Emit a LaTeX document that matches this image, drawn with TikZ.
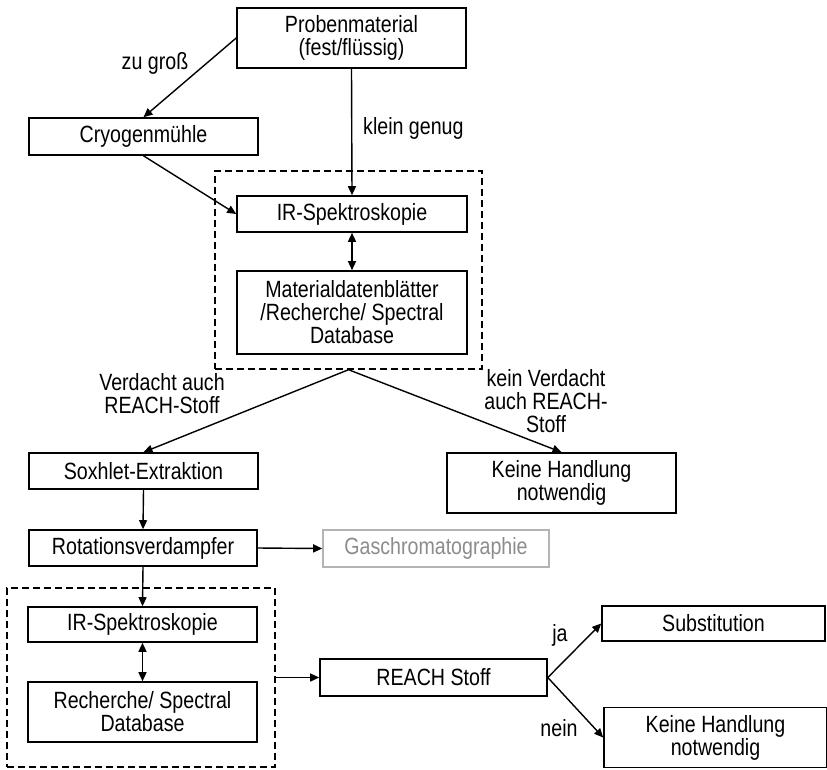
\documentclass[tikz,border=0pt]{standalone}
\usepackage{fontspec}
\setmainfont{Liberation Sans}[FakeStretch=0.835]
\usepackage{xcolor}
\usepackage{tikz}
\usetikzlibrary{arrows.meta}
\definecolor{gcborder}{HTML}{B4B4B4}
\definecolor{gctext}{HTML}{8C8C8C}

\begin{document}
\begin{tikzpicture}[x=1pt,y=-1pt,>={Stealth[length=9pt,width=8pt,inset=0pt]},
		font=\fontsize{23.5}{23}\selectfont,
		procbox/.style={draw,line width=1.6pt,inner sep=0pt,align=center,minimum width=229,minimum height=36},
		tallbox/.style={procbox,minimum height=60},
		groupbox/.style={draw,line width=1.4pt,dash pattern=on 7pt off 4pt,inner sep=0pt},
		lbl/.style={align=center,inner sep=0pt},
		flow/.style={->,line width=1.4pt}]
			\useasboundingbox (0,0) rectangle (827,769);

			% The dashed groups
			\node[groupbox,minimum width=267,minimum height=198] (grpa) at (348.5,270) {};
			\node[groupbox,minimum width=268,minimum height=179] (grpb) at (141,677.5) {};

			% The boxes
			\node[tallbox] (probe) at (351.5,38) {Probenmaterial\\(fest/flüssig)};
			\node[procbox,minimum height=37] (cryo) at (143.5,136.5) {Cryogenmühle};
			\node[procbox,minimum width=230] (irone) at (352,214) {IR-Spektroskopie};
			\node[procbox,minimum width=230,minimum height=83] (matdb) at (352,312.5) {Materialdatenblätter\\/Recherche/ Spectral\\Database};
			\node[procbox] (soxh) at (143.5,471) {Soxhlet-Extraktion};
			\node[tallbox] (nothing) at (561.5,483) {Keine Handlung\\notwendig};
			\node[procbox,minimum width=228] (rotv) at (143,548) {Rotationsverdampfer};
			\node[procbox,minimum width=226,minimum height=37,draw=gcborder,text=gctext] (gaschr) at (436,548.5) {Gaschromatographie};
			\node[procbox,minimum height=35] (irtwo) at (142.5,624.5) {IR-Spektroskopie};
			\node[tallbox] (recdb) at (142.5,712) {Recherche/ Spectral\\Database};
			\node[procbox,minimum width=227,minimum height=37] (reach) at (433.5,677.5) {REACH Stoff};
			\node[procbox,minimum width=223,minimum height=35] (subst) at (713.5,623.5) {Substitution};
			\node[tallbox,minimum width=223] (nothingb) at (715.5,737.5) {Keine Handlung\\notwendig};

			% The labels
			\node[lbl] (lgross) at (155,63) {zu groß};
			\node[lbl,anchor=west] (lklein) at (363,128) {klein genug};
			\node[lbl] (lverd) at (162,394) {Verdacht auch\\REACH-Stoff};
			\node[lbl] (lkein) at (546,401) {kein Verdacht\\auch REACH-\\Stoff};
			\node[lbl] (lja) at (560,635) {ja};
			\node[lbl] (lnein) at (559,728) {nein};

			% The connectors
			\draw[flow] (probe.west) -- (cryo.north);
			\draw[flow] (probe.south) -- (irone.north);
			\draw[flow] (cryo.south) -- (irone.west);
			\draw[<->,line width=1.4pt] (irone.south) -- (matdb.north);
			\draw[flow] (grpa.south) -- (soxh.north);
			\draw[flow] (grpa.south) -- (nothing.north);
			\draw[flow] (soxh.south) -- (rotv.north);
			\draw[flow] (rotv.east) -- (gaschr.west);
			\draw[flow] (rotv.south) -- (irtwo.north);
			\draw[<->,line width=1.4pt] (irtwo.south) -- (recdb.north);
			\draw[flow] (grpb.east) -- (reach.west);
			\draw[flow] (reach.east) -- (subst.west);
			\draw[flow] (reach.east) -- (nothingb.west);
		\end{tikzpicture}
\end{document}
